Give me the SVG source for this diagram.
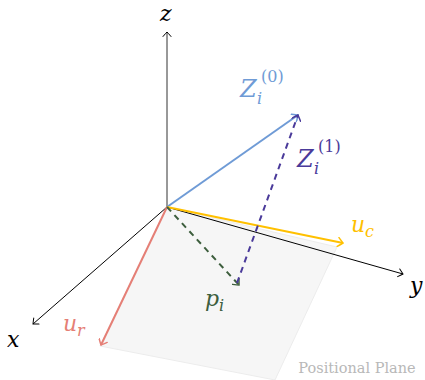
<svg xmlns="http://www.w3.org/2000/svg" width="425" height="380" viewBox="0 0 425 380">
<defs>
<marker id="ak" viewBox="-6 -5 8 10" refX="0" refY="0" markerWidth="8" markerHeight="10" markerUnits="userSpaceOnUse" orient="auto"><path d="M-4.5,-4 Q-1,-1 0,0 Q-1,1 -4.5,4" fill="none" stroke="#000" stroke-width="1" stroke-linecap="round"/></marker>
<marker id="ab" viewBox="-6 -5 8 10" refX="0" refY="0" markerWidth="8" markerHeight="10" markerUnits="userSpaceOnUse" orient="auto"><path d="M-5,-4.5 Q-1,-1 0,0 Q-1,1 -5,4.5" fill="none" stroke="#6f9bd6" stroke-width="1.5" stroke-linecap="round"/></marker>
<marker id="ay" viewBox="-6 -5 8 10" refX="0" refY="0" markerWidth="8" markerHeight="10" markerUnits="userSpaceOnUse" orient="auto"><path d="M-5,-4.5 Q-1,-1 0,0 Q-1,1 -5,4.5" fill="none" stroke="#ffc000" stroke-width="1.5" stroke-linecap="round"/></marker>
<marker id="ar" viewBox="-6 -5 8 10" refX="0" refY="0" markerWidth="8" markerHeight="10" markerUnits="userSpaceOnUse" orient="auto"><path d="M-5,-4.5 Q-1,-1 0,0 Q-1,1 -5,4.5" fill="none" stroke="#e57f76" stroke-width="1.5" stroke-linecap="round"/></marker>
<marker id="ap" viewBox="-6 -5 8 10" refX="0" refY="0" markerWidth="8" markerHeight="10" markerUnits="userSpaceOnUse" orient="auto"><path d="M-5,-4.5 Q-1,-1 0,0 Q-1,1 -5,4.5" fill="none" stroke="#4a3a9a" stroke-width="1.5" stroke-linecap="round"/></marker>
<marker id="ag" viewBox="-6 -5 8 10" refX="0" refY="0" markerWidth="8" markerHeight="10" markerUnits="userSpaceOnUse" orient="auto"><path d="M-5,-4.5 Q-1,-1 0,0 Q-1,1 -5,4.5" fill="none" stroke="#3d5e3d" stroke-width="1.5" stroke-linecap="round"/></marker>
</defs>
<g id="plane">
<polygon points="167,207 337,247 275,380 100,346" fill="#f6f6f6" stroke="#ececec" stroke-width="1"/>
<text x="357" y="373" font-family="'DejaVu Serif','Liberation Serif',serif" font-size="14.5" fill="#b8b8b8" text-anchor="middle">Positional Plane</text>
</g>
<g id="connectors">
<line x1="167" y1="207" x2="167" y2="32" stroke="#333" stroke-width="1" marker-end="url(#ak)"/>
<line x1="167" y1="207" x2="33" y2="324" stroke="#000" stroke-width="1" marker-end="url(#ak)"/>
<line x1="167" y1="207" x2="403" y2="274" stroke="#000" stroke-width="1" marker-end="url(#ak)"/>
<line x1="167" y1="207" x2="298" y2="115" stroke="#6f9bd6" stroke-width="2" marker-end="url(#ab)"/>
<line x1="167" y1="207" x2="343" y2="243" stroke="#ffc000" stroke-width="2" marker-end="url(#ay)"/>
<line x1="167" y1="207" x2="101" y2="345" stroke="#e57f76" stroke-width="2" marker-end="url(#ar)"/>
<line x1="167" y1="207" x2="239" y2="285" stroke="#3d5e3d" stroke-width="2" stroke-dasharray="6,5" marker-end="url(#ag)"/>
<line x1="237" y1="283" x2="298" y2="115" stroke="#4a3a9a" stroke-width="2" stroke-dasharray="6,5" marker-end="url(#ap)"/>
</g>
<g id="labels" font-family="'DejaVu Serif','Liberation Serif',serif" font-style="italic">
<text x="160" y="21" font-size="22">z</text>
<text x="7" y="347" font-size="22">x</text>
<text x="410" y="293" font-size="22">y</text>
<g id="Z0" fill="#6f9bd6">
<text x="240" y="97" font-size="24">Z</text>
<text x="257" y="104" font-size="16">i</text>
<text x="261" y="82" font-size="16" font-style="normal">(0)</text>
</g>
<g id="Z1" fill="#4a3a9a">
<text x="297" y="167" font-size="24">Z</text>
<text x="314" y="174" font-size="16">i</text>
<text x="318" y="152" font-size="16" font-style="normal">(1)</text>
</g>
<g id="uc" fill="#ffc000">
<text x="351" y="232" font-size="22">u</text>
<text x="365" y="237" font-size="16">c</text>
</g>
<g id="ur" fill="#e57f76">
<text x="63" y="331" font-size="22">u</text>
<text x="77" y="336" font-size="16">r</text>
</g>
<g id="pi" fill="#3d5e3d">
<text x="205" y="306" font-size="22">p</text>
<text x="219" y="311" font-size="16">i</text>
</g>
</g>
</svg>
